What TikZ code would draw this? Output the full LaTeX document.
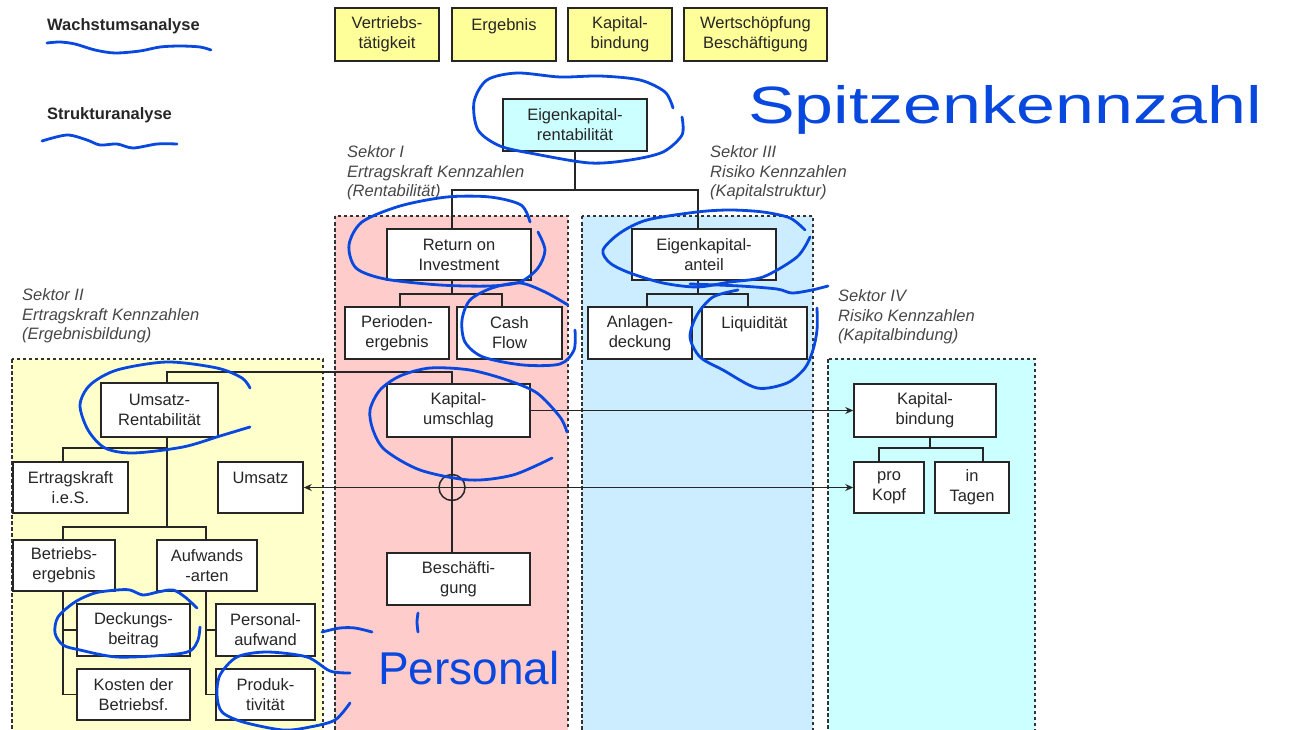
\documentclass[tikz,border=0pt]{standalone}
\usepackage{fontspec}
\setmainfont{Liberation Sans}
\usetikzlibrary{arrows.meta,calc}

\definecolor{ink}{RGB}{38,38,38}
\definecolor{penblue}{RGB}{8,72,222}
\definecolor{topyellow}{RGB}{255,255,153}
\definecolor{secone}{RGB}{255,204,204}
\definecolor{sectwo}{RGB}{255,255,204}
\definecolor{secthree}{RGB}{204,236,255}
\definecolor{secfour}{RGB}{204,255,255}
\definecolor{topcyan}{RGB}{204,255,255}

\newcommand{\bxfont}{\fontsize{16.5}{20}\selectfont}
\newcommand{\lblfont}{\fontsize{16.5}{19.5}\selectfont}

\begin{document}
\begin{tikzpicture}[x=1pt,y=-1pt,
  box/.style={draw=black!85, line width=1.5pt, fill=white, align=center,
    inner sep=0pt, text=ink, font=\bxfont},
  topbox/.style={box, fill=topyellow},
  sector/.style={draw=black!80, line width=1.2pt, dash pattern=on 3.5pt off 2.5pt},
  link/.style={draw=black!85, line width=1.5pt},
  tip/.style={-{Stealth[length=8pt,width=7pt]}},
  lbl/.style={anchor=west, align=left, text=ink!85, font=\lblfont\itshape, inner sep=0pt},
  head/.style={anchor=west, text=ink, font=\lblfont\bfseries, inner sep=0pt},
  pen/.style={draw=penblue, line width=2.8pt, line cap=round, line join=round},
  hand/.style={text=penblue, inner sep=0pt, anchor=base west}
]
\useasboundingbox (0,0) rectangle (1314,730);
\clip (0,0) rectangle (1314,730);

% sector panels
\draw[sector, fill=sectwo]   (12,359)  rectangle (323,745);
\draw[sector, fill=secone]   (335,216) rectangle (568,745);
\draw[sector, fill=secthree] (582,216) rectangle (813,745);
\draw[sector, fill=secfour]  (828,359) rectangle (1035,745);

% headings and sector captions
\node[head] (wa) at (47,26) {Wachstumsanalyse};
\node[head] (sa) at (47,115) {Strukturanalyse};
\node[lbl] (s1) at (347,173) {Sektor I\\Ertragskraft Kennzahlen\\(Rentabilität)};
\node[lbl] (s3) at (710,173) {Sektor III\\Risiko Kennzahlen\\(Kapitalstruktur)};
\node[lbl] (s2) at (22,316) {Sektor II\\Ertragskraft Kennzahlen\\(Ergebnisbildung)};
\node[lbl] (s4) at (838,317) {Sektor IV\\Risiko Kennzahlen\\(Kapitalbindung)};

% growth analysis boxes
\node[topbox, minimum width=104pt, minimum height=53pt] (vt) at (387,34.5) {Vertriebs-\\tätigkeit};
\node[topbox, minimum width=104pt, minimum height=53pt] (eg) at (504,34.5) {Ergebnis\\\mbox{}};
\node[topbox, minimum width=104pt, minimum height=53pt] (kp) at (620,34.5) {Kapital-\\bindung};
\node[topbox, minimum width=143pt, minimum height=53pt] (ws) at (755.5,34.5) {Wertschöpfung\\Beschäftigung};

% structure analysis boxes
\node[box, fill=topcyan, minimum width=144pt, minimum height=52pt] (ekr) at (575,125) {Eigenkapital-\\rentabilität};
\node[box, minimum width=144pt, minimum height=51pt] (roi) at (459,254.5) {Return on\\Investment};
\node[box, minimum width=104pt, minimum height=52pt] (per) at (397,333) {Perioden-\\ergebnis};
\node[box, minimum width=105pt, minimum height=52pt] (cf) at (509.5,333) {Cash\\Flow};
\node[box, minimum width=144pt, minimum height=51pt] (eka) at (704,254.5) {Eigenkapital-\\anteil};
\node[box, minimum width=104pt, minimum height=52pt] (anl) at (640,333) {Anlagen-\\deckung};
\node[box, minimum width=105pt, minimum height=52pt] (liq) at (754.5,333) {Liquidität\\\mbox{}};
\node[box, minimum width=117pt, minimum height=54pt] (ur) at (159.5,410) {Umsatz-\\Rentabilität};
\node[box, minimum width=143pt, minimum height=53pt] (ku) at (458.5,410.5) {Kapital-\\umschlag};
\node[box, minimum width=143pt, minimum height=52pt] (be) at (458.5,579) {Beschäfti-\\gung};
\node[box, minimum width=142pt, minimum height=53pt] (kbi) at (925,410.5) {Kapital-\\bindung};
\node[box, minimum width=70pt, minimum height=51pt] (pk) at (889,487.5) {pro\\Kopf};
\node[box, minimum width=74pt, minimum height=51pt] (it) at (972,487.5) {in\\Tagen};
\node[box, minimum width=115pt, minimum height=51pt] (eies) at (70.5,487.5) {Ertragskraft\\i.e.S.};
\node[box, minimum width=85pt, minimum height=51pt] (ums) at (260.5,487.5) {Umsatz\\\mbox{}};
\node[box, minimum width=102pt, minimum height=51pt] (bet) at (64,565.5) {Betriebs-\\ergebnis};
\node[box, minimum width=100pt, minimum height=51pt] (auf) at (207,565.5) {Aufwands\\-arten};
\node[box, minimum width=113pt, minimum height=52pt] (db) at (133.5,630) {Deckungs-\\beitrag};
\node[box, minimum width=113pt, minimum height=51pt] (kdb) at (133.5,694.5) {Kosten der\\Betriebsf.};
\node[box, minimum width=99pt, minimum height=52pt] (pa) at (265.5,630) {Personal-\\aufwand};
\node[box, minimum width=99pt, minimum height=51pt] (pr) at (265.5,694.5) {Produk-\\tivität};

% bus points of the tree
\coordinate (t1) at (452,190);
\coordinate (t3) at (698,190);
\coordinate (r1) at (400,294);
\coordinate (r2) at (502,294);
\coordinate (e1) at (647,294);
\coordinate (e2) at (748,294);
\coordinate (u0) at (167,372);
\coordinate (u1) at (63,448);
\coordinate (u2) at (63,527);
\coordinate (u3) at (206,527);
\coordinate (k0) at (930,448);
\coordinate (k1) at (879,448);
\coordinate (k2) at (983,448);

% top of the hierarchy
\draw[link] (ekr.south) -- (ekr.south |- t1);
\draw[link] (roi.north -| t1) -- (t1) -- (t3) -- (eka.north -| t3);
% return on investment
\draw[link] (roi.south -| t1) -- (t1 |- r1);
\draw[link] (per.north -| r1) -- (r1) -- (r2) -- (cf.north -| r2);
% equity ratio
\draw[link] (eka.south -| t3) -- (t3 |- e1);
\draw[link] (anl.north -| e1) -- (e1) -- (e2) -- (liq.north -| e2);
% return on sales and capital turnover
\draw[link] (ur.north -| u0) -- (u0) -- (u0 -| t1) -- (ku.north -| t1);
\draw[link] (ur.south -| u0) -- (u0 |- u2);
\draw[link] (u0 |- u1) -- (u1) -- (eies.north -| u1);
\draw[link] (bet.north -| u2) -- (u2) -- (u3) -- (auf.north -| u3);
\draw[link] (bet.south -| u2) |- (db.west);
\draw[link] (bet.south -| u2) |- (kdb.west);
\draw[link] (auf.south -| u3) |- (pa.west);
\draw[link] (auf.south -| u3) |- (pr.west);
\draw[link] (ku.south -| t1) -- (be.north -| t1);
% capital commitment
\draw[link] (kbi.south -| k0) -- (k0);
\draw[link] (pk.north -| k1) -- (k1) -- (k2) -- (it.north -| k2);
% cross links
\draw[link, tip] (ku.east) -- (kbi.west);
\draw[link, {Stealth[length=8pt,width=7pt]}-{Stealth[length=8pt,width=7pt]}] (ums.east) -- (pk.west);
\draw[link] (t1 |- ums.east) circle (13pt);

% handwritten notes
\draw[pen] plot[smooth] coordinates {(47,43) (60,42) (75,44) (95,50) (115,53) (140,51) (160,47) (180,46) (200,47) (211,50)};
\draw[pen] plot[smooth] coordinates {(42,141) (67,135) (87,140) (100,145) (117,144) (133,148) (157,144) (177,144)};
\draw[pen] plot[smooth] coordinates {(673,108) (665,92) (640,80) (600,76) (560,77) (517,73) (487,80) (474,102) (478,130) (500,146) (535,154) (590,163) (630,160) (663,152) (682,135) (682,117)};
\draw[pen] plot[smooth] coordinates {(530,222) (521,205) (490,197) (447,197) (400,206) (362,222) (349,245) (356,268) (385,279) (440,285) (490,286) (520,282) (538,268) (545,250) (538,232)};
\draw[pen] plot[smooth] coordinates {(568,305) (545,292) (520,283) (492,288) (470,300) (462,320) (465,342) (483,357) (523,365) (560,364) (574,350) (575,330)};
\draw[pen] plot[smooth] coordinates {(805,230) (790,218) (763,212) (730,210) (697,212) (647,220) (620,233) (603,250) (610,263) (630,273) (663,283) (697,287) (730,282) (763,277) (797,257) (810,237)};
\draw[pen] plot[smooth] coordinates {(690,284) (740,286) (777,289) (792,293) (812,290) (828,286)};
\draw[pen] plot[smooth] coordinates {(738,290) (713,297) (697,315) (690,337) (700,357) (723,370) (757,388) (787,383) (805,368) (813,350) (817,330) (817,308)};
\draw[pen] plot[smooth] coordinates {(250,388) (242,378) (217,368) (167,362) (117,370) (90,385) (80,405) (88,430) (105,448) (133,453) (183,447) (220,436) (250,427)};
\draw[pen] plot[smooth] coordinates {(567,432) (560,417) (537,393) (507,380) (470,370) (430,368) (400,376) (380,390) (370,410) (373,430) (385,450) (420,470) (470,480) (513,475) (552,458)};
\draw[pen] plot[smooth] coordinates {(197,608) (185,597) (173,590) (158,592) (143,595) (130,590) (117,590) (95,593) (75,602) (58,617) (55,633) (63,645) (80,650) (117,657) (167,655) (190,651) (198,640) (200,627)};
\draw[pen] plot[smooth] coordinates {(350,673) (330,671) (307,657) (267,652) (237,657) (220,675) (217,695) (222,712) (243,722) (283,730) (310,727) (335,720) (350,703)};
\draw[pen] plot[smooth] coordinates {(322,632) (340,628) (355,628) (372,632)};
\draw[pen] plot[smooth] coordinates {(418,613) (417,622) (418,632)};

\node[hand, font=\fontsize{50}{52}\selectfont] (spk) at (748,124) {\scalebox{1.4}[1.05]{Spitzenkennzahl}};
\node[hand, font=\fontsize{46}{48}\selectfont] (prs) at (378,684) {Personal};
\end{tikzpicture}
\end{document}
